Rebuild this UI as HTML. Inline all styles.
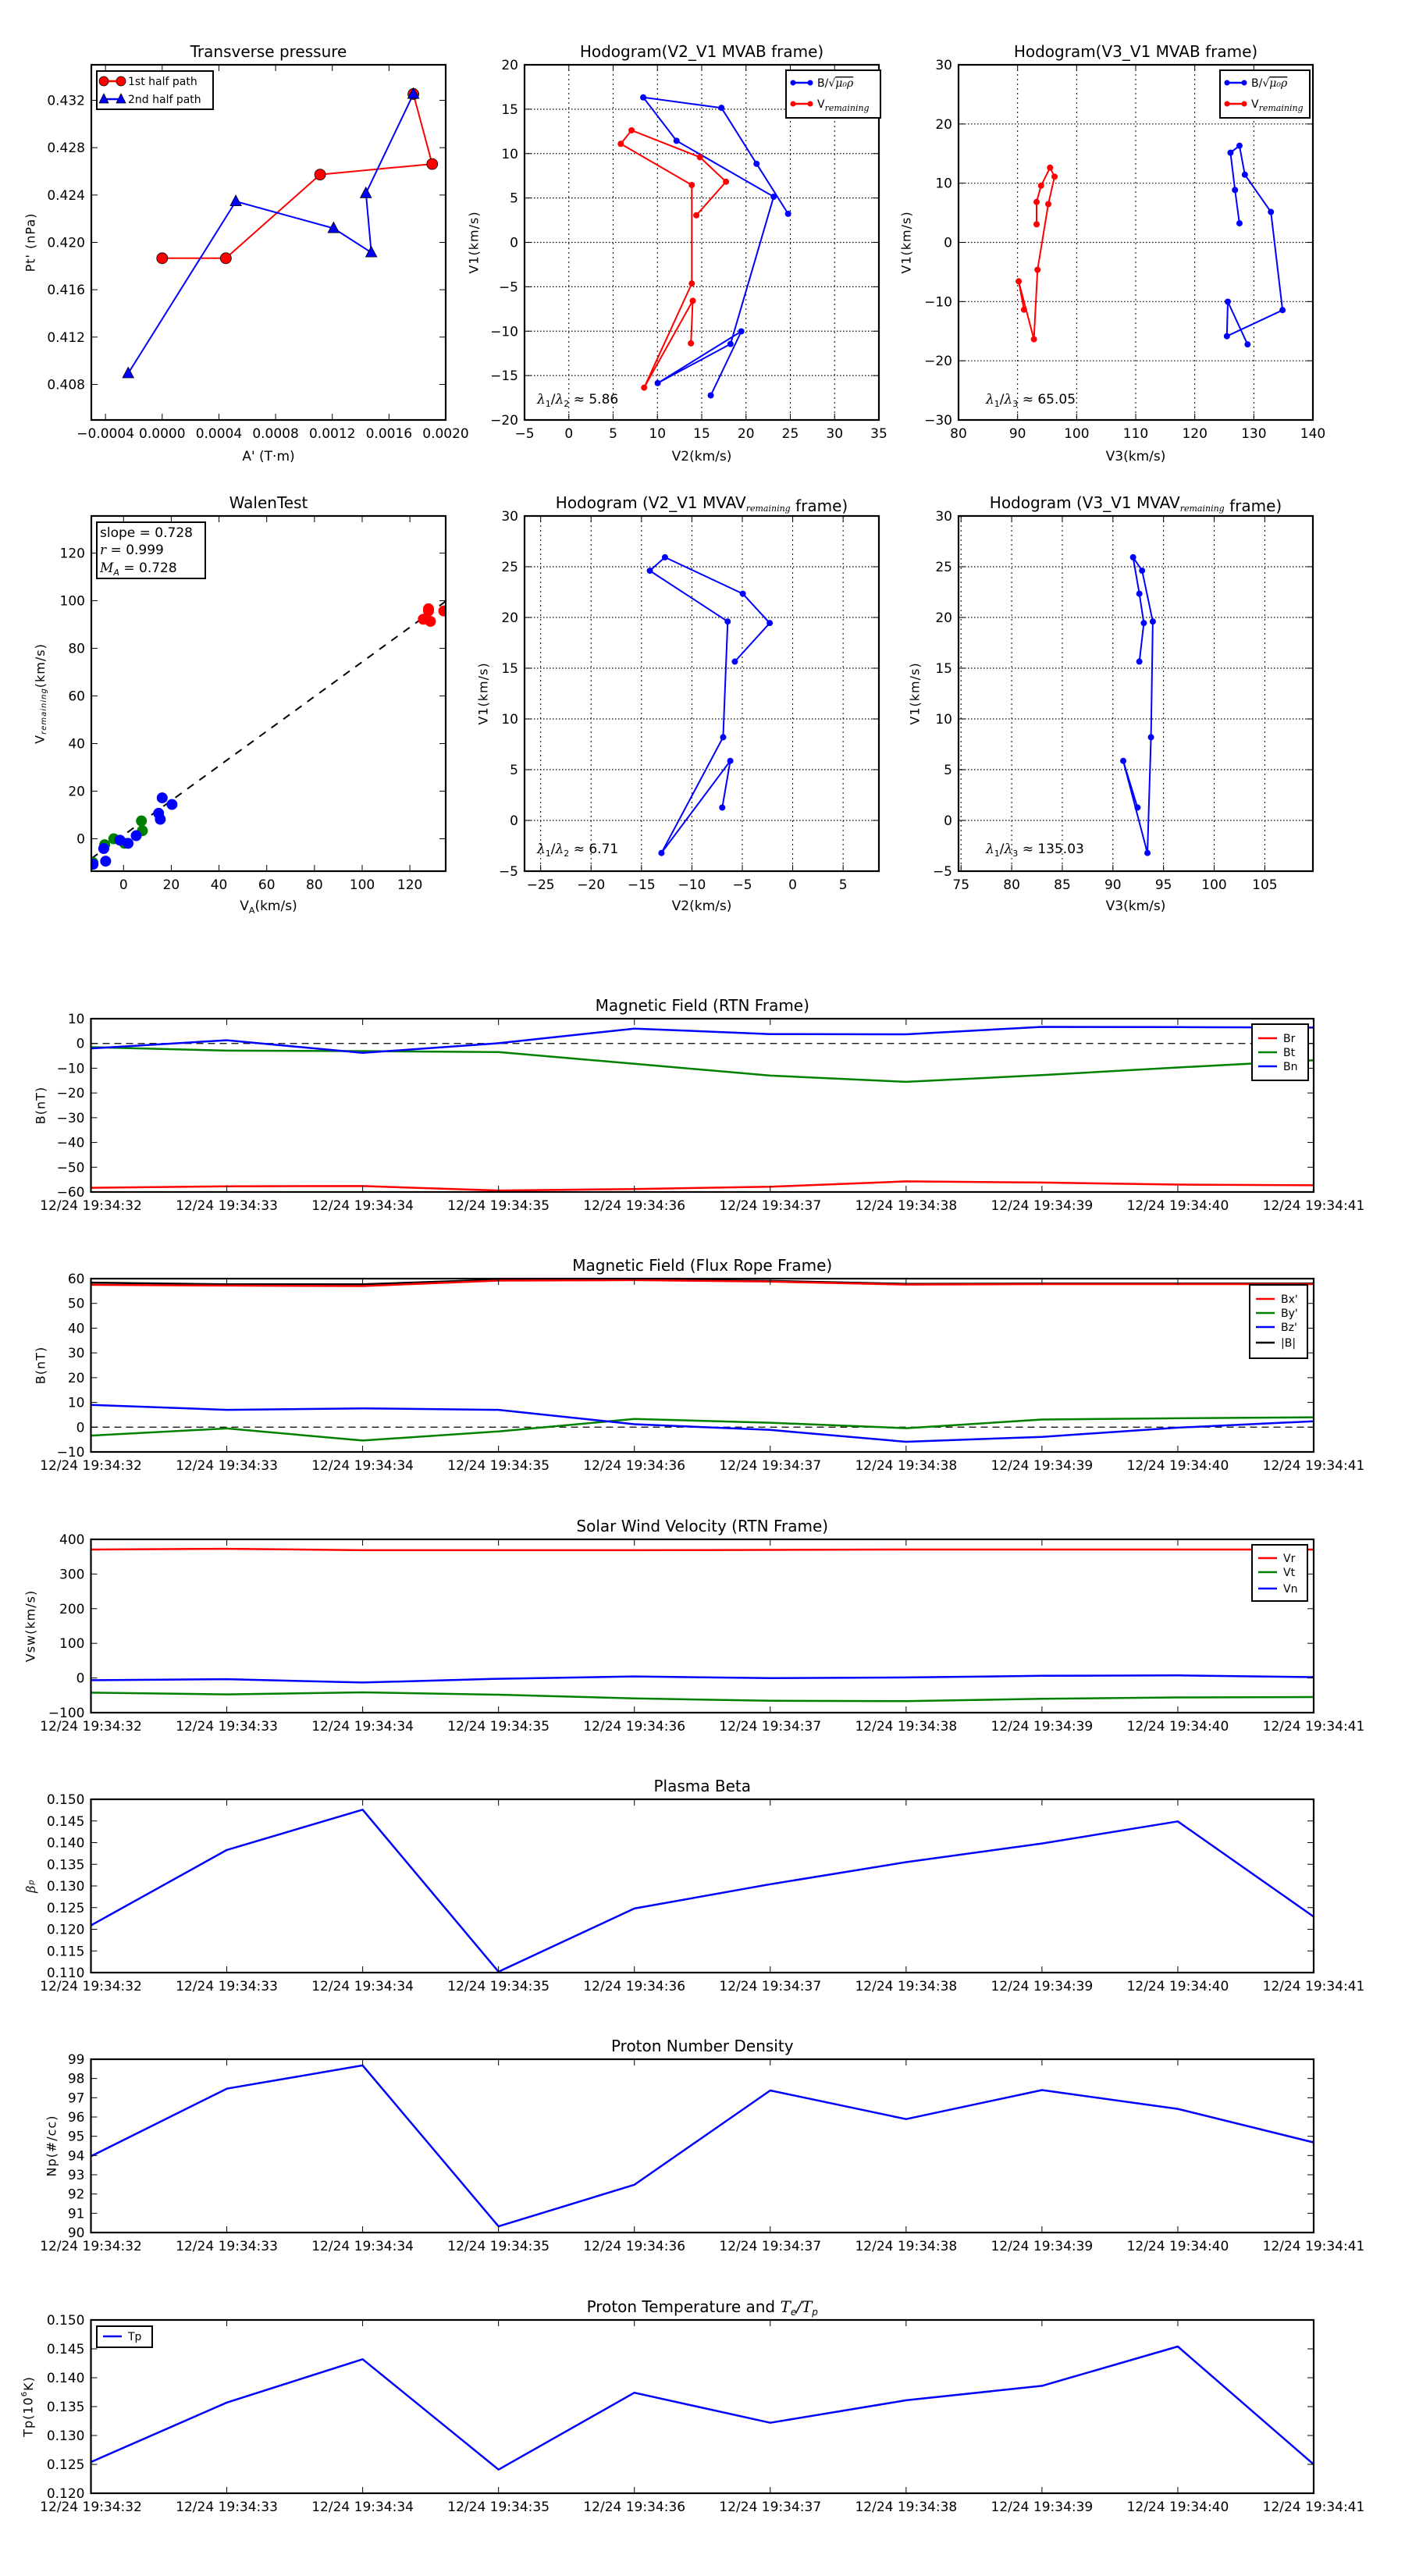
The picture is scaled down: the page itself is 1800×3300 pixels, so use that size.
<!DOCTYPE html>
<html><head><meta charset="utf-8">
<style>
html,body{margin:0;padding:0;background:#fff;}
svg{display:block;font-family:"DejaVu Sans","Liberation Sans",sans-serif;}
</style></head>
<body>
<svg id="fig" xmlns="http://www.w3.org/2000/svg" width="1800" height="3300" viewBox="0 0 1800 3300">
<rect x="0" y="0" width="1800" height="3300" fill="#fff"/>
<defs id="defs"></defs>
</svg>
<script>
// ---------- data ----------
// Transverse pressure
const tpA1 = [0, 0.000449, 0.001114, 0.001905, 0.001772];
const tpP1 = [0.41866, 0.41866, 0.42573, 0.42662, 0.43253];
const tpA2 = [0.001772, 0.001437, 0.001475, 0.001209, 0.000519, -0.00024];
const tpP2 = [0.43253, 0.42414, 0.41914, 0.42119, 0.42346, 0.40893];
// Hodogram MVAB (blue = B/sqrt(mu0 rho), red = V remaining)
const mvabB2 = [24.75, 21.19, 17.23, 8.40, 12.16, 23.12, 18.25, 10.03, 19.47, 16.02];
const mvabB3 = [127.57, 126.81, 126.05, 127.57, 128.48, 132.89, 134.86, 125.44, 125.59, 128.94];
const mvabB1 = [3.22, 8.85, 15.15, 16.33, 11.44, 5.14, -11.44, -15.85, -10.02, -17.23];
const mvabV2 = [14.39, 17.74, 14.80, 7.08, 5.86, 13.88, 13.88, 8.50, 13.99, 13.78];
const mvabV3 = [93.22, 93.22, 93.98, 95.50, 96.26, 95.20, 93.37, 92.77, 90.18, 91.09];
const mvabV1 = [3.05, 6.83, 9.59, 12.62, 11.10, 6.46, -4.63, -16.36, -6.58, -11.37];
const ratioMVAB = ["5.86", "65.05"];
// Walen test
const walBx = [16.2, 20.3, 14.7, 15.4, 5.3, 1.9, -1.5, -8.3, -7.5, -12.8];
const walBy = [17.2, 14.4, 10.7, 8.2, 1.3, -1.9, -0.6, -4.1, -9.4, -10.7];
const walGx = [7.5, 7.9, 0.4, -4.1, -7.9, -12.8];
const walGy = [7.5, 3.4, -1.9, 0, -2.5, -10.0];
const walRx = [125.6, 127.8, 128.6, 134.2, 127.8];
const walRy = [92.2, 95.7, 91.3, 95.7, 96.6];
const walSlope = 0.728, walIntercept = 1.5;
// Hodogram MVAV
const mvavV2 = [-6.99, -6.19, -13.02, -6.90, -6.45, -14.17, -12.67, -4.95, -2.28, -5.74];
const mvavV3 = [92.43, 91.02, 93.41, 93.76, 93.94, 92.88, 91.99, 92.61, 93.05, 92.61];
const mvavV1 = [1.27, 5.87, -3.21, 8.20, 19.60, 24.61, 25.93, 22.34, 19.45, 15.65];
const ratioMVAV = ["6.71", "135.03"];
// Time series
const timeLabels = ["12/24 19:34:32","12/24 19:34:33","12/24 19:34:34","12/24 19:34:35","12/24 19:34:36","12/24 19:34:37","12/24 19:34:38","12/24 19:34:39","12/24 19:34:40","12/24 19:34:41"];
const Br = [-58.3, -57.7, -57.6, -59.4, -58.8, -57.9, -55.7, -56.2, -57.0, -57.3];
const Bt = [-1.5, -2.9, -3.1, -3.5, -8.2, -13.0, -15.5, -12.8, -9.7, -6.8];
const Bn = [-2.0, 1.3, -3.8, 0.1, 6.0, 3.8, 3.7, 6.7, 6.6, 6.4];
const Bxp = [57.5, 57.2, 57.0, 59.2, 59.4, 58.8, 57.6, 57.8, 57.8, 57.8];
const Byp = [-3.4, -0.5, -5.4, -1.7, 3.3, 1.8, -0.4, 3.1, 3.6, 4.0];
const Bzp = [9.0, 7.0, 7.6, 7.0, 1.2, -1.1, -5.9, -3.9, -0.2, 2.4];
const Bmag = [58.4, 57.7, 57.7, 59.6, 59.7, 59.1, 57.9, 58.0, 58.0, 58.0];
const Vr = [370.7, 372.7, 368.8, 368.8, 368.8, 369.7, 370.7, 370.7, 370.7, 370.7];
const Vt = [-42.4, -47.3, -41.4, -48.2, -59.0, -65.8, -66.8, -60.0, -56.0, -55.0];
const Vn = [-6.3, -3.3, -13.0, -2.3, 4.5, -0.4, 1.6, 6.4, 7.4, 2.5];
const beta = [0.1209, 0.1383, 0.1476, 0.1102, 0.1248, 0.1304, 0.1355, 0.1398, 0.1449, 0.1229];
const Np = [93.96, 97.47, 98.68, 90.32, 92.48, 97.38, 95.89, 97.40, 96.42, 94.68];
const Tp = [0.1254, 0.1357, 0.1432, 0.1241, 0.1374, 0.1322, 0.1361, 0.1386, 0.1454, 0.1250];

// ---------- helpers ----------
const NS = 'http://www.w3.org/2000/svg';
const svg = document.getElementById('fig');
const defs = document.getElementById('defs');
function mk(tag, attrs, parent){
  const e = document.createElementNS(NS, tag);
  for (const k in attrs) e.setAttribute(k, attrs[k]);
  (parent || svg).appendChild(e);
  return e;
}
function lin(d0, d1, r0, r1){ return v => r0 + (v - d0) / (d1 - d0) * (r1 - r0); }
let clipId = 0;
function fmt(v, dec){ const s = v.toFixed(dec); return s.replace('-', '\u2212'); }

function axes(c){
  const g = mk('g', {});
  
  
  const sx = lin(c.xmin, c.xmax, c.x, c.x + c.w);
  const sy = lin(c.ymin, c.ymax, c.y + c.h, c.y);
  clipId++;
  const cp = mk('clipPath', {id: 'cp' + clipId}, defs);
  mk('rect', {x: c.x, y: c.y, width: c.w, height: c.h}, cp);
  // grid
  if (c.grid){
    c.xticks.forEach(v => {
      const gl = mk('line', {x1: sx(v), x2: sx(v), y1: c.y, y2: c.y + c.h, stroke: '#000', 'stroke-width': 1, 'stroke-dasharray': '2,4'}, g);
      
      
    });
    c.yticks.forEach(v => {
      const gl = mk('line', {x1: c.x, x2: c.x + c.w, y1: sy(v), y2: sy(v), stroke: '#000', 'stroke-width': 1.2, 'stroke-dasharray': '1.5,2.5'}, g);
      
      
    });
  }
  const plot = mk('g', {'clip-path': 'url(#cp' + clipId + ')'}, g);
  
  
  const frame = mk('g', {}, g);
  // ticks
  c.xticks.forEach((v, i) => {
    const X = sx(v);
    mk('line', {x1: X, x2: X, y1: c.y + c.h, y2: c.y + c.h - 8, stroke: '#000', 'stroke-width': 1}, frame);
    mk('line', {x1: X, x2: X, y1: c.y, y2: c.y + 8, stroke: '#000', 'stroke-width': 1}, frame);
    const t = mk('text', {x: X, y: c.y + c.h + 23, 'font-size': 17, 'text-anchor': 'middle'}, frame);
    t.textContent = c.xlabels ? c.xlabels[i] : fmt(v, c.xdec || 0);
    
    
  });
  c.yticks.forEach(v => {
    const Y = sy(v);
    mk('line', {x1: c.x, x2: c.x + 8, y1: Y, y2: Y, stroke: '#000', 'stroke-width': 1}, frame);
    mk('line', {x1: c.x + c.w, x2: c.x + c.w - 8, y1: Y, y2: Y, stroke: '#000', 'stroke-width': 1}, frame);
    const t = mk('text', {x: c.x - 8, y: Y + 6, 'font-size': 17, 'text-anchor': 'end'}, frame);
    t.textContent = fmt(v, c.ydec || 0);
    
    
  });
  const box = mk('rect', {x: c.x, y: c.y, width: c.w, height: c.h, fill: 'none', stroke: '#000', 'stroke-width': 2.2}, frame);
  
  
  // title
  const tt = mk('text', {x: c.x + c.w / 2, y: c.y - 10, 'font-size': 20, 'text-anchor': 'middle'}, g);
  tt.innerHTML = c.title;
  
  
  if (c.xtitle){
    const xt = mk('text', {x: c.x + c.w / 2, y: c.y + c.h + c.xtOff, 'font-size': 17, 'text-anchor': 'middle'}, g);
    xt.innerHTML = c.xtitle;
    
    
  }
  if (c.ytitle){
    const yx = c.ytX, yy = c.y + c.h / 2;
    const yt = mk('text', {x: yx, y: yy, 'font-size': 16, 'letter-spacing': 1, 'text-anchor': 'middle', transform: 'rotate(-90 ' + yx + ' ' + yy + ')', 'dominant-baseline': 'middle'}, g);
    yt.innerHTML = c.ytitle;
    
    
  }
  return {sx, sy, g, plot};
}
function pline(ax, xs, ys, color, w, name){
  const pts = xs.map((v, i) => ax.sx(v).toFixed(1) + ',' + ax.sy(ys[i]).toFixed(1)).join(' ');
  const p = mk('polyline', {points: pts, fill: 'none', stroke: color, 'stroke-width': w, 'stroke-linejoin': 'round'}, ax.plot);
  
  
  return p;
}
function dots(ax, xs, ys, color, r, name, edge){
  xs.forEach((v, i) => {
    const d = mk('circle', {cx: ax.sx(v), cy: ax.sy(ys[i]), r: r, fill: color, stroke: edge || 'none', 'stroke-width': 0.8}, ax.plot);
    
    
  });
}
function tris(ax, xs, ys, color, s, name){
  xs.forEach((v, i) => {
    const X = ax.sx(v), Y = ax.sy(ys[i]);
    const d = mk('polygon', {points: X + ',' + (Y - s) + ' ' + (X - s * 0.9) + ',' + (Y + s * 0.7) + ' ' + (X + s * 0.9) + ',' + (Y + s * 0.7), fill: color, stroke: '#000', 'stroke-width': 0.8}, ax.plot);
    
    
  });
}
function legendBox(x, y, w, h, entries, name){
  const g = mk('g', {});
  
  
  mk('rect', {x: x, y: y, width: w, height: h, fill: '#fff', stroke: '#000', 'stroke-width': 2}, g);
  entries.forEach(e => {
    const l = mk('line', {x1: x + 8, x2: x + 32, y1: e.y, y2: e.y, stroke: e.color, 'stroke-width': 2.5}, g);
    
    
    if (e.marker === 'dot'){
      mk('circle', {cx: x + 9, cy: e.y, r: 3.5, fill: e.color}, g);
      mk('circle', {cx: x + 31, cy: e.y, r: 3.5, fill: e.color}, g);
    } else if (e.marker === 'bigdot'){
      mk('circle', {cx: x + 9, cy: e.y, r: 6, fill: e.color, stroke: '#000', 'stroke-width': 0.8}, g);
      mk('circle', {cx: x + 31, cy: e.y, r: 6, fill: e.color, stroke: '#000', 'stroke-width': 0.8}, g);
    } else if (e.marker === 'tri'){
      [x + 9, x + 31].forEach(X => mk('polygon', {points: X + ',' + (e.y - 7) + ' ' + (X - 6) + ',' + (e.y + 5) + ' ' + (X + 6) + ',' + (e.y + 5), fill: e.color, stroke: '#000', 'stroke-width': 0.8}, g));
    }
    const t = mk('text', {x: x + 40, y: e.y + 5, 'font-size': 14}, g);
    t.innerHTML = e.label;
    
    
  });
}
function range(a, b, s){ const r = []; for (let v = a; v <= b + 1e-9; v += s) r.push(Math.round(v * 1e6) / 1e6); return r; }

const SUBREM = '<tspan font-style="italic" font-family="DejaVu Serif" font-size="11" dy="4">remaining</tspan><tspan dy="-4"></tspan>';

// ---------- Row 1 ----------
const ax1 = axes({name: 'transverse-pressure-chart', x: 117, y: 83, w: 454, h: 455, xmin: -0.0005, xmax: 0.0020, ymin: 0.405, ymax: 0.435,
  xticks: range(-0.0004, 0.0020, 0.0004), xdec: 4, yticks: range(0.408, 0.432, 0.004), ydec: 3,
  title: 'Transverse pressure', xtitle: "A' (T\u00b7m)", xtOff: 52, ytitle: "Pt' (nPa)", ytX: 40});
pline(ax1, tpA1, tpP1, '#f00', 2, 'first-half-path-line');
pline(ax1, tpA2, tpP2, '#00f', 2, 'second-half-path-line');
dots(ax1, tpA1, tpP1, '#f00', 7, 'first-half-point', '#000');
tris(ax1, tpA2, tpP2, '#00f', 8, 'second-half-point');
legendBox(124, 91, 149, 49, [
  {y: 104, color: '#f00', marker: 'bigdot', label: '1st half path'},
  {y: 127, color: '#00f', marker: 'tri', label: '2nd half path'}], 'legend-transverse-pressure');

const ax2 = axes({name: 'hodogram-v2-v1-mvab', x: 672, y: 83, w: 454, h: 455, xmin: -5, xmax: 35, ymin: -20, ymax: 20,
  xticks: range(-5, 35, 5), yticks: range(-20, 20, 5), grid: true,
  title: 'Hodogram(V2_V1 MVAB frame)', xtitle: 'V2(km/s)', xtOff: 52, ytitle: 'V1(km/s)', ytX: 608});
pline(ax2, mvabB2, mvabB1, '#00f', 2, 'alfven-velocity-path');
pline(ax2, mvabV2, mvabV1, '#f00', 2, 'remaining-velocity-path');
dots(ax2, mvabB2, mvabB1, '#00f', 4, 'alfven-velocity-point');
dots(ax2, mvabV2, mvabV1, '#f00', 4, 'remaining-velocity-point');

const ax3 = axes({name: 'hodogram-v3-v1-mvab', x: 1228, y: 83, w: 454, h: 455, xmin: 80, xmax: 140, ymin: -30, ymax: 30,
  xticks: range(80, 140, 10), yticks: range(-30, 30, 10), grid: true,
  title: 'Hodogram(V3_V1 MVAB frame)', xtitle: 'V3(km/s)', xtOff: 52, ytitle: 'V1(km/s)', ytX: 1162});
pline(ax3, mvabB3, mvabB1, '#00f', 2, 'alfven-velocity-path');
pline(ax3, mvabV3, mvabV1, '#f00', 2, 'remaining-velocity-path');
dots(ax3, mvabB3, mvabB1, '#00f', 4, 'alfven-velocity-point');
dots(ax3, mvabV3, mvabV1, '#f00', 4, 'remaining-velocity-point');

const BLAB = 'B/<tspan font-family="DejaVu Serif">\u221a<tspan font-style="italic" text-decoration="overline">\u03bc\u2080\u03c1</tspan></tspan>';
const VLAB = 'V' + SUBREM;
legendBox(1007, 90, 121, 61, [{y: 106, color: '#00f', marker: 'dot', label: BLAB}, {y: 133, color: '#f00', marker: 'dot', label: VLAB}], 'legend-hodogram-mvab-v2');
legendBox(1563, 90, 115, 61, [{y: 106, color: '#00f', marker: 'dot', label: BLAB}, {y: 133, color: '#f00', marker: 'dot', label: VLAB}], 'legend-hodogram-mvab-v3');

function ratioText(x, y, sub, val, name){
  const t = mk('text', {x: x, y: y, 'font-size': 17});
  t.innerHTML = '<tspan font-family="DejaVu Serif" font-style="italic">\u03bb</tspan><tspan font-size="11" dy="4">1</tspan><tspan dy="-4">/</tspan><tspan font-family="DejaVu Serif" font-style="italic">\u03bb</tspan><tspan font-size="11" dy="4">' + sub + '</tspan><tspan dy="-4"> \u2248 ' + val + '</tspan>';
  
  
}
ratioText(688, 517, '2', ratioMVAB[0], 'eigenvalue-ratio-mvab-v2');
ratioText(1263, 517, '3', ratioMVAB[1], 'eigenvalue-ratio-mvab-v3');

// ---------- Row 2 ----------
const ax4 = axes({name: 'walen-test-chart', x: 117, y: 661, w: 454, h: 455, xmin: -13.5, xmax: 135, ymin: -13.6, ymax: 135.6,
  xticks: range(0, 120, 20), yticks: range(0, 120, 20),
  title: 'WalenTest', xtitle: 'V<tspan font-size="11" dy="4">A</tspan><tspan dy="-4">(km/s)</tspan>', xtOff: 50,
  ytitle: 'V<tspan font-size="10" font-style="italic" dy="4">remaining</tspan><tspan dy="-4">(km/s)</tspan>', ytX: 52});
{
  const xa = -13.5, xb = 135;
  const dl = mk('line', {x1: ax4.sx(xa), y1: ax4.sy(walSlope * xa + walIntercept), x2: ax4.sx(xb), y2: ax4.sy(walSlope * xb + walIntercept), stroke: '#000', 'stroke-width': 2, 'stroke-dasharray': '10,9'}, ax4.plot);
  
  
}
dots(ax4, walGx, walGy, '#008000', 7, 'walen-point-green');
dots(ax4, walBx, walBy, '#00f', 7, 'walen-point-blue');
dots(ax4, walRx, walRy, '#f00', 7, 'walen-point-red');
{
  const g = mk('g', {});
  
  
  mk('rect', {x: 124, y: 669, width: 139, height: 72, fill: '#fff', stroke: '#000', 'stroke-width': 2}, g);
  const l1 = mk('text', {x: 128, y: 688, 'font-size': 17}, g); l1.textContent = 'slope = 0.728';
  const l2 = mk('text', {x: 128, y: 710, 'font-size': 17}, g); l2.innerHTML = '<tspan font-style="italic" font-family="DejaVu Serif">r</tspan> = 0.999';
  const l3 = mk('text', {x: 128, y: 733, 'font-size': 17}, g); l3.innerHTML = '<tspan font-style="italic" font-family="DejaVu Serif">M</tspan><tspan font-size="11" font-style="italic" dy="4">A</tspan><tspan dy="-4"> = 0.728</tspan>';
}

const ax5 = axes({name: 'hodogram-v2-v1-mvav', x: 672, y: 661, w: 454, h: 455, xmin: -26.6, xmax: 8.55, ymin: -5, ymax: 30,
  xticks: range(-25, 5, 5), yticks: range(-5, 30, 5), grid: true,
  title: 'Hodogram (V2_V1 MVAV' + SUBREM + ' frame)', xtitle: 'V2(km/s)', xtOff: 50, ytitle: 'V1(km/s)', ytX: 620});
pline(ax5, mvavV2, mvavV1, '#00f', 2, 'mvav-velocity-path');
dots(ax5, mvavV2, mvavV1, '#00f', 4, 'mvav-velocity-point');
ratioText(688, 1093, '2', ratioMVAV[0], 'eigenvalue-ratio-mvav-v2');

const ax6 = axes({name: 'hodogram-v3-v1-mvav', x: 1228, y: 661, w: 454, h: 455, xmin: 74.75, xmax: 109.75, ymin: -5, ymax: 30,
  xticks: range(75, 105, 5), yticks: range(-5, 30, 5), grid: true,
  title: 'Hodogram (V3_V1 MVAV' + SUBREM + ' frame)', xtitle: 'V3(km/s)', xtOff: 50, ytitle: 'V1(km/s)', ytX: 1173});
pline(ax6, mvavV3, mvavV1, '#00f', 2, 'mvav-velocity-path');
dots(ax6, mvavV3, mvavV1, '#00f', 4, 'mvav-velocity-point');
ratioText(1263, 1093, '3', ratioMVAV[1], 'eigenvalue-ratio-mvav-v3');

// ---------- Time series ----------
const idx = timeLabels.map((_, i) => i);
const TX = 116.5, TW = 1566.5, TH = 222;
function tsAxes(name, top, ymin, ymax, yticks, ydec, title, ytitle, ytX){
  return axes({name: name, x: TX, y: top, w: TW, h: TH, xmin: 0, xmax: 9, ymin: ymin, ymax: ymax,
    xticks: idx, xlabels: timeLabels, yticks: yticks, ydec: ydec, title: title, ytitle: ytitle, ytX: ytX});
}
function zeroLine(ax, name){
  const z = mk('line', {x1: TX, x2: TX + TW, y1: ax.sy(0), y2: ax.sy(0), stroke: '#000', 'stroke-width': 1.3, 'stroke-dasharray': '9,6'}, ax.plot);
  
  
}
const p1 = tsAxes('magnetic-field-rtn-chart', 1305, -60, 10, range(-60, 10, 10), 0, 'Magnetic Field (RTN Frame)', 'B(nT)', 53);
zeroLine(p1, 'zero-line');
pline(p1, idx, Br, '#f00', 2.5, 'br-line');
pline(p1, idx, Bt, '#008000', 2.5, 'bt-line');
pline(p1, idx, Bn, '#00f', 2.5, 'bn-line');
legendBox(1604, 1312, 72, 72, [{y: 1330, color: '#f00', label: 'Br'}, {y: 1348, color: '#008000', label: 'Bt'}, {y: 1366, color: '#00f', label: 'Bn'}], 'legend-magnetic-field-rtn');

const p2 = tsAxes('magnetic-field-flux-rope-chart', 1638, -10, 60, range(-10, 60, 10), 0, 'Magnetic Field (Flux Rope Frame)', 'B(nT)', 53);
zeroLine(p2, 'zero-line');
pline(p2, idx, Bmag, '#000', 2.5, 'bmag-line');
pline(p2, idx, Bxp, '#f00', 2.5, 'bx-prime-line');
pline(p2, idx, Byp, '#008000', 2.5, 'by-prime-line');
pline(p2, idx, Bzp, '#00f', 2.5, 'bz-prime-line');
legendBox(1601, 1646, 74, 94, [{y: 1664, color: '#f00', label: "Bx'"}, {y: 1682, color: '#008000', label: "By'"}, {y: 1700, color: '#00f', label: "Bz'"}, {y: 1720, color: '#000', label: '|B|'}], 'legend-magnetic-field-flux-rope');

const p3 = tsAxes('solar-wind-velocity-chart', 1972, -100, 400, range(-100, 400, 100), 0, 'Solar Wind Velocity (RTN Frame)', 'Vsw(km/s)', 40);
pline(p3, idx, Vr, '#f00', 2.5, 'vr-line');
pline(p3, idx, Vt, '#008000', 2.5, 'vt-line');
pline(p3, idx, Vn, '#00f', 2.5, 'vn-line');
legendBox(1604, 1979, 71, 72, [{y: 1996, color: '#f00', label: 'Vr'}, {y: 2014, color: '#008000', label: 'Vt'}, {y: 2035, color: '#00f', label: 'Vn'}], 'legend-solar-wind-velocity');

const p4 = tsAxes('plasma-beta-chart', 2305, 0.110, 0.150, range(0.110, 0.150, 0.005), 3, 'Plasma Beta', '<tspan font-family="DejaVu Serif" font-style="italic">\u03b2</tspan><tspan font-size="10" font-style="italic">p</tspan>', 40);
pline(p4, idx, beta, '#00f', 2.5, 'plasma-beta-line');

const p5 = tsAxes('proton-density-chart', 2638, 90, 99, range(90, 99, 1), 0, 'Proton Number Density', 'Np(#/cc)', 67);
pline(p5, idx, Np, '#00f', 2.5, 'proton-density-line');

const p6 = tsAxes('proton-temperature-chart', 2972, 0.120, 0.150, range(0.120, 0.150, 0.005), 3,
  'Proton Temperature and <tspan font-family="DejaVu Serif" font-style="italic">T</tspan><tspan font-size="12" font-style="italic" dy="4">e</tspan><tspan dy="-4" font-family="DejaVu Serif" font-style="italic">/T</tspan><tspan font-size="12" font-style="italic" dy="4">p</tspan>',
  'Tp(10<tspan font-size="10" dy="-6">6</tspan><tspan dy="6">K)</tspan>', 37);
pline(p6, idx, Tp, '#00f', 2.5, 'proton-temperature-line');
legendBox(124, 2980, 71, 27, [{y: 2993, color: '#00f', label: 'Tp'}], 'legend-proton-temperature');
</script>
</body></html>
